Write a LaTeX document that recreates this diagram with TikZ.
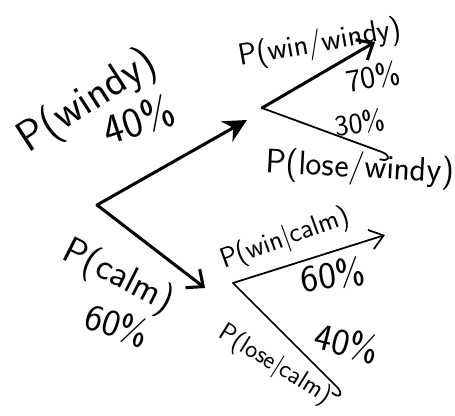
\documentclass[tikz,border=0pt]{standalone}
\usepackage{fontspec}
\usetikzlibrary{arrows.meta}

\tikzset{
  stem/.style={line width=2.6pt, line cap=round, line join=round},
  twig/.style={line width=1.5pt, line cap=round, line join=round},
  solidarrow/.style={stem, -{Stealth[length=7mm, width=7mm]}},
  barbarrow/.style={stem, -{Straight Barb[length=4mm, width=7mm]}},
  twigarrow/.style={twig, -{Straight Barb[length=4mm, width=6mm]}},
  hookend/.style={twig, -{Hooks[right, length=2.5mm, width=5mm]}},
  hand/.style={inner sep=0pt, font=\sffamily\fontsize{#1}{#1}\selectfont},
  hand/.default=24
}

\begin{document}
\begin{tikzpicture}[x=0.03cm, y=-0.03cm]
  \useasboundingbox (0,0) rectangle (455,415);

  % branch points
  \coordinate (root) at (97,205);
  \coordinate (windytip) at (247,120);
  \coordinate (windy) at (262,108);
  \coordinate (calmtip) at (205,288);
  \coordinate (calm) at (233,283);
  \coordinate (winW) at (375,42);
  \coordinate (loseW) at (390,155);
  \coordinate (winC) at (385,235);
  \coordinate (loseC) at (343,393);

  % first split
  \draw[solidarrow] (root) -- (windytip);
  \draw[barbarrow] (root) -- (calmtip);

  % second split
  \draw[barbarrow] (windy) -- (winW);
  \draw[hookend] (windy) -- (loseW);
  \draw[twigarrow] (calm) -- (winC);
  \draw[hookend] (calm) -- (loseC);

  % probabilities
  \node[hand=37, rotate=33] (pwindy) at (88,102) {P(windy)};
  \node[hand=36, rotate=18] (pcwindy) at (139,120) {40\%};
  \node[hand=32, rotate=-27] (pcalm) at (118,277) {P(calm)};
  \node[hand=32, rotate=-18] (pccalm) at (117,325) {60\%};

  \node[hand=26, rotate=10] (pwinW) at (320,44) {P(win/windy)};
  \node[hand=27, rotate=10] (pcwinW) at (373,77) {70\%};
  \node[hand=25, rotate=8] (pcloseW) at (360,123) {30\%};
  \node[hand=29, rotate=-3] (ploseW) at (360,169) {P(lose/windy)};

  \node[hand=24, rotate=20] (pwinC) at (285,239) {P(win|calm)};
  \node[hand=32, rotate=8] (pcwinC) at (333,275) {60\%};
  \node[hand=32, rotate=-14] (pcloseC) at (347,343) {40\%};
  \node[hand=22, rotate=-32] (ploseC) at (275,365) {P(lose|calm)};
\end{tikzpicture}
\end{document}
